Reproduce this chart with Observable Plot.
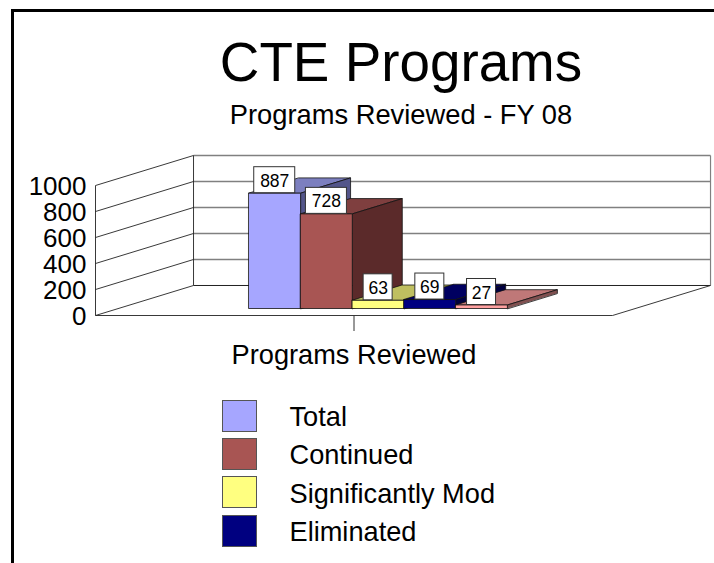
<!DOCTYPE html>
<html>
<head>
<meta charset="utf-8">
<script src="https://cdn.jsdelivr.net/npm/d3@7"></script>
<script src="https://cdn.jsdelivr.net/npm/@observablehq/plot@0.6"></script>
<style>
  html, body { margin: 0; padding: 0; background: #fff; }
  #page { position: relative; width: 714px; height: 563px; overflow: hidden; font-family: "Liberation Sans", Arial, sans-serif; color: #000; }
  #frame { position: absolute; left: 11px; top: 9px; right: -10px; bottom: -10px; border: 3px solid #000; }
  #chart { position: absolute; left: 0; top: 0; }
  .head { position: absolute; left: 90px; width: 622px; text-align: center; line-height: 1; white-space: nowrap; }
  #title { top: 35px; font-size: 54.8px; }
  #subtitle { top: 101px; font-size: 27.3px; }
  #legend { position: absolute; left: 222px; top: 400px; }
  .row { display: flex; align-items: center; height: 31px; margin-bottom: 7.4px; font-size: 27.2px; line-height: 1; }
  .row .name { position: relative; top: 1px; left: -0.5px; }
  .swatch { width: 33px; height: 30px; border: 1px solid #555; box-sizing: content-box; margin-right: 33px; }
</style>
</head>
<body>
<div id="page">
  <div id="frame"></div>
  <div id="chart"></div>
  <div id="title" class="head">CTE Programs</div>
  <div id="subtitle" class="head">Programs Reviewed - FY 08</div>
  <div id="legend"></div>
</div>
<script>
const categoryName = "Programs Reviewed";
const values = [887, 728, 63, 69, 27];
const legendNames = ["Total", "Continued", "Significantly Mod", "Eliminated"];
const frontColors = ["#A6A6FF", "#A85553", "#FFFF80", "#000080", "#FFA0A0"];
const topColors = ["#7C7FBF", "#7F3F3F", "#BFBF60", "#000060", "#BF7878"];
const sideColors = ["#53558A", "#5B2A2A", "#808040", "#000040", "#805050"];
const yTicks = [0, 200, 400, 600, 800, 1000];

// Oblique projection: depth z in [0,1] shifts a point along the floor.
const depthX = 0.1896;   // x units per full depth
const depthY = 230.8;    // value units per full depth
const barStart = 0.2525, barWidth = 0.1;
const zFront = 0.233, zBack = 0.743;
const P = (u, v, z) => ({x: u + z * depthX, y: v + z * depthY});

const faces = [];
values.forEach((v, i) => {
  const a = barStart + i * barWidth, b = a + barWidth;
  const add = (id, fill, pts) => pts.forEach(p => faces.push({id: `${i}-${id}`, fill, ...p}));
  add("top", topColors[i], [P(a, v, zFront), P(b, v, zFront), P(b, v, zBack), P(a, v, zBack)]);
  add("side", sideColors[i], [P(b, 0, zFront), P(b, v, zFront), P(b, v, zBack), P(b, 0, zBack)]);
  add("front", frontColors[i], [P(a, 0, zFront), P(b, 0, zFront), P(b, v, zFront), P(a, v, zFront)]);
});

const labels = values.map((v, i) => {
  const c = P(barStart + (i + 0.5) * barWidth, v, zFront);
  const half = (String(v).length * 12 + 5) / 2 / 517;
  return {text: String(v), x: c.x, y: c.y, x1: c.x - half, x2: c.x + half, y2: c.y + 200};
});

const walls = yTicks.map(v => ({
  v,
  lx1: P(0, v, 0).x, ly1: P(0, v, 0).y, lx2: P(0, v, 1).x, ly2: P(0, v, 1).y,
  bx1: P(0, v, 1).x, by1: P(0, v, 1).y, bx2: P(1, v, 1).x, by2: P(1, v, 1).y
}));
const edges = [
  {a: P(0, 0, 0), b: P(0, 1000, 0)},
  {a: P(0, 0, 1), b: P(0, 1000, 1)},
  {a: P(0, 0, 0), b: P(1, 0, 0)},
  {a: P(1, 0, 0), b: P(1, 0, 1)}
];

const svg = Plot.plot({
  width: 714, height: 563,
  marginLeft: 95, marginRight: 102, marginTop: 185, marginBottom: 248,
  x: {domain: [0, 1]},
  y: {domain: [0, 1000]},
  style: {fontFamily: '"Liberation Sans", Arial, sans-serif', background: "transparent", color: "#000", overflow: "visible"},
  marks: [
    Plot.link(walls.filter(d => d.v > 0), {x1: "bx1", y1: "by1", x2: "bx2", y2: "by2", stroke: "#808080", strokeWidth: 1.4}),
    Plot.link(walls.filter(d => d.v === 0), {x1: "bx1", y1: "by1", x2: "bx2", y2: "by2", stroke: "#222", strokeWidth: 1}),
    Plot.link(walls, {x1: "lx1", y1: "ly1", x2: "lx2", y2: "ly2", stroke: "#222", strokeWidth: 0.9}),
    Plot.link([{a: P(1, 0, 1), b: P(1, 1000, 1)}], {x1: d => d.a.x, y1: d => d.a.y, x2: d => d.b.x, y2: d => d.b.y, stroke: "#808080", strokeWidth: 1.2}),
    Plot.link(edges, {x1: d => d.a.x, y1: d => d.a.y, x2: d => d.b.x, y2: d => d.b.y, stroke: "#222", strokeWidth: 0.9}),
    Plot.axisY({ticks: yTicks, tickFormat: d => String(d), tickSize: 0, tickPadding: 9, dy: 1.5, fontSize: 26, label: null}),
    Plot.axisX({ticks: [0.5], tickFormat: () => categoryName, tickSize: 16, tickPadding: 13.5, fontSize: 27.2, label: null, stroke: "#333"}),
    Plot.line(faces, {x: "x", y: "y", z: "id", fill: "fill", stroke: "#111", strokeWidth: 0.8, curve: "linear-closed"}),
    Plot.rect(labels, {x1: "x1", x2: "x2", y1: "y", y2: "y2", fill: "#fff", stroke: "#333", strokeWidth: 1}),
    Plot.text(labels, {x: "x", y: d => d.y + 100, text: "text", fill: "#000", fontSize: 17.5, dy: 1})
  ]
});
document.getElementById("chart").appendChild(svg);

const legend = document.getElementById("legend");
legendNames.forEach((name, i) => {
  const row = document.createElement("div");
  row.className = "row";
  const sw = document.createElement("div");
  sw.className = "swatch";
  sw.style.background = frontColors[i];
  const t = document.createElement("div");
  t.className = "name";
  t.textContent = name;
  row.append(sw, t);
  legend.append(row);
});
</script>
</body>
</html>
